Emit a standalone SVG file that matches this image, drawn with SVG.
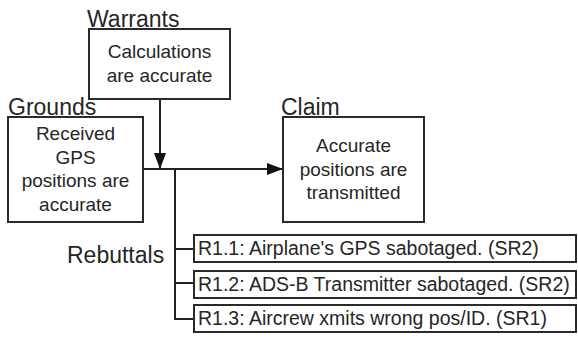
<svg xmlns="http://www.w3.org/2000/svg" width="578" height="338" viewBox="0 0 578 338">
<defs>
<style>
.box{fill:#fff;stroke:#2a2a2a;stroke-width:2}
.line{fill:none;stroke:#222;stroke-width:2}
.t{font-family:"Liberation Sans",Arial,sans-serif;font-size:19px;fill:#262626}
.c{text-anchor:middle}
.h{font-family:"Liberation Sans",Arial,sans-serif;font-size:23px;fill:#262626}
.r{font-family:"Liberation Sans",Arial,sans-serif;font-size:19.5px;fill:#262626}
</style>
<marker id="ah" markerWidth="16" markerHeight="12" refX="16" refY="6" orient="auto" markerUnits="userSpaceOnUse">
<path d="M0,0 L16,6 L0,12 Z" fill="#111"/>
</marker>
</defs>
<rect width="578" height="338" fill="#fff"/>
<g id="connectors">
<path class="line" d="M160,99 V169" marker-end="url(#ah)"/>
<path class="line" d="M143,169 H283" marker-end="url(#ah)"/>
<path class="line" d="M175,169 V319 H194 M175,249 H194 M175,283 H194"/>
</g>
<g id="warrants">
<text class="h" x="87" y="27">Warrants</text>
<rect class="box" x="89" y="29" width="141" height="70"/>
<text class="t c" x="159.5" y="58">Calculations</text>
<text class="t c" x="159.5" y="82">are accurate</text>
</g>
<g id="grounds">
<text class="h" x="8" y="115">Grounds</text>
<rect class="box" x="8" y="117" width="135" height="105"/>
<text class="t c" x="75.5" y="140">Received</text>
<text class="t c" x="75.5" y="164">GPS</text>
<text class="t c" x="75.5" y="187">positions are</text>
<text class="t c" x="75.5" y="211">accurate</text>
</g>
<g id="claim">
<text class="h" x="281" y="115">Claim</text>
<rect class="box" x="283" y="117" width="141" height="105"/>
<text class="t c" x="353.5" y="152">Accurate</text>
<text class="t c" x="353.5" y="176">positions are</text>
<text class="t c" x="353.5" y="199">transmitted</text>
</g>
<g id="rebuttals">
<text class="h" x="67" y="263">Rebuttals</text>
</g>
<g id="r11">
<rect class="box" x="194" y="235" width="382" height="27"/>
<text class="r" x="198" y="255">R1.1: Airplane's GPS sabotaged. (SR2)</text>
</g>
<g id="r12">
<rect class="box" x="194" y="271" width="382" height="27"/>
<text class="r" x="198" y="291">R1.2: ADS-B Transmitter sabotaged. (SR2)</text>
</g>
<g id="r13">
<rect class="box" x="194" y="305" width="382" height="27"/>
<text class="r" x="198" y="325">R1.3: Aircrew xmits wrong pos/ID. (SR1)</text>
</g>
</svg>
